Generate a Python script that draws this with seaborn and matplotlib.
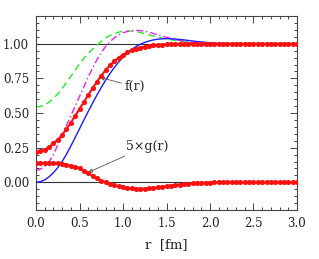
import matplotlib
matplotlib.use("Agg")
import matplotlib.pyplot as plt
from matplotlib.ticker import MultipleLocator
import seaborn as sns
import numpy as np

# radial grid (fm)
r = [0.00, 0.05, 0.10, 0.15, 0.20, 0.25, 0.30, 0.35, 0.40, 0.45,
     0.50, 0.55, 0.60, 0.65, 0.70, 0.75, 0.80, 0.85, 0.90, 0.95,
     1.00, 1.05, 1.10, 1.15, 1.20, 1.25, 1.30, 1.35, 1.40, 1.45,
     1.50, 1.55, 1.60, 1.65, 1.70, 1.75, 1.80, 1.85, 1.90, 1.95,
     2.00, 2.05, 2.10, 2.15, 2.20, 2.25, 2.30, 2.35, 2.40, 2.45,
     2.50, 2.55, 2.60, 2.65, 2.70, 2.75, 2.80, 2.85, 2.90, 2.95, 3.00]

f_r = [0.220, 0.225, 0.236, 0.256, 0.281, 0.308, 0.342, 0.385, 0.430, 0.480,
       0.530, 0.580, 0.630, 0.680, 0.725, 0.770, 0.810, 0.845, 0.875, 0.900,
       0.920, 0.938, 0.952, 0.964, 0.973, 0.980, 0.985, 0.989, 0.992, 0.994,
       0.996, 0.997, 0.998, 0.999, 1.000, 1.000, 1.000, 1.000, 1.000, 1.000,
       1.000, 1.000, 1.000, 1.000, 1.000, 1.000, 1.000, 1.000, 1.000, 1.000,
       1.000, 1.000, 1.000, 1.000, 1.000, 1.000, 1.000, 1.000, 1.000, 1.000, 1.000]

g5_r = [0.140, 0.140, 0.140, 0.139, 0.138, 0.136, 0.133, 0.128, 0.121, 0.112,
        0.101, 0.084, 0.066, 0.047, 0.030, 0.013, -0.001, -0.013, -0.022, -0.030,
        -0.036, -0.041, -0.044, -0.046, -0.046, -0.045, -0.043, -0.040, -0.036, -0.032,
        -0.028, -0.024, -0.020, -0.016, -0.013, -0.010, -0.008, -0.006, -0.004, -0.003,
        -0.002, -0.001, -0.001, 0.000, 0.000, 0.000, 0.000, 0.000, 0.000, 0.000,
        0.000, 0.000, 0.000, 0.000, 0.000, 0.000, 0.000, 0.000, 0.000, 0.000, 0.000]

blue = [0.000, 0.005, 0.018, 0.040, 0.070, 0.106, 0.150, 0.203, 0.262, 0.324,
        0.387, 0.450, 0.512, 0.572, 0.630, 0.685, 0.737, 0.785, 0.829, 0.868,
        0.903, 0.933, 0.959, 0.980, 0.997, 1.010, 1.020, 1.028, 1.033, 1.036,
        1.037, 1.036, 1.034, 1.031, 1.028, 1.024, 1.020, 1.016, 1.013, 1.010,
        1.007, 1.005, 1.003, 1.002, 1.001, 1.000, 1.000, 1.000, 1.000, 1.000,
        1.000, 1.000, 1.000, 1.000, 1.000, 1.000, 1.000, 1.000, 1.000, 1.000, 1.000]

green = [0.545, 0.548, 0.558, 0.578, 0.605, 0.638, 0.675, 0.720, 0.765, 0.810,
         0.855, 0.895, 0.930, 0.962, 0.990, 1.018, 1.041, 1.060, 1.074, 1.084,
         1.090, 1.092, 1.091, 1.087, 1.081, 1.073, 1.064, 1.056, 1.048, 1.041,
         1.035, 1.029, 1.024, 1.019, 1.015, 1.011, 1.008, 1.006, 1.004, 1.002,
         1.001, 1.000, 1.000, 1.000, 1.000, 1.000, 1.000, 1.000, 1.000, 1.000,
         1.000, 1.000, 1.000, 1.000, 1.000, 1.000, 1.000, 1.000, 1.000, 1.000, 1.000]

magenta = [0.085, 0.095, 0.115, 0.150, 0.200, 0.270, 0.340, 0.410, 0.480, 0.550,
           0.620, 0.690, 0.760, 0.825, 0.885, 0.937, 0.980, 1.015, 1.043, 1.064,
           1.079, 1.089, 1.095, 1.097, 1.095, 1.090, 1.083, 1.074, 1.065, 1.056,
           1.047, 1.039, 1.031, 1.024, 1.018, 1.013, 1.009, 1.006, 1.003, 1.001,
           1.000, 1.000, 1.000, 1.000, 1.000, 1.000, 1.000, 1.000, 1.000, 1.000,
           1.000, 1.000, 1.000, 1.000, 1.000, 1.000, 1.000, 1.000, 1.000, 1.000, 1.000]

x_ticks = [0.0, 0.5, 1.0, 1.5, 2.0, 2.5, 3.0]
y_ticks = [0.00, 0.25, 0.50, 0.75, 1.00]
x_label = "r  [fm]"
label_f = "f(r)"
label_g = "5×g(r)"

sns.set_style("ticks")
plt.rcParams["font.family"] = ["DejaVu Serif", "DejaVu Sans"]
plt.rcParams["font.size"] = 8

fig = plt.figure(figsize=(3.19, 2.59), dpi=100)
ax = fig.add_axes([0.113, 0.189, 0.818, 0.749])

ax.axhline(1.0, color="#333333", lw=0.8, zorder=1)
ax.axhline(0.0, color="#333333", lw=0.8, zorder=1)

sns.lineplot(x=r, y=green, ax=ax, color="#22ee22", lw=1.0,
             linestyle=(0, (5, 3)), zorder=2)
sns.lineplot(x=r, y=magenta, ax=ax, color="#ee22ee", lw=1.0,
             linestyle=(0, (5, 2, 1, 2)), zorder=2)
sns.lineplot(x=r, y=blue, ax=ax, color="#1a1aff", lw=1.0, zorder=3)
sns.lineplot(x=r, y=f_r, ax=ax, color="#ff1010", lw=1.5, marker="o",
             markersize=3.7, markeredgewidth=0, zorder=4)
sns.lineplot(x=r, y=g5_r, ax=ax, color="#ff1010", lw=1.5, marker="o",
             markersize=3.7, markeredgewidth=0, zorder=4)

ax.annotate(label_f, xy=(0.735, 0.757), xytext=(1.02, 0.69), fontsize=9,
            va="center", ha="left",
            arrowprops=dict(arrowstyle="-|>", color="#555555", lw=0.6,
                            fill=False, mutation_scale=6, shrinkA=0, shrinkB=0))
ax.annotate(label_g, xy=(0.6, 0.072), xytext=(1.03, 0.26), fontsize=9,
            va="center", ha="left",
            arrowprops=dict(arrowstyle="-|>", color="#555555", lw=0.6,
                            fill=False, mutation_scale=6, shrinkA=0, shrinkB=0))

ax.set_xlim(0, 3.0)
ax.set_ylim(-0.2, 1.2)
ax.set_xticks(x_ticks)
ax.set_xticklabels([f"{v:.1f}" for v in x_ticks])
ax.set_yticks(y_ticks)
ax.set_yticklabels([f"{v:.2f}" for v in y_ticks])
ax.xaxis.set_minor_locator(MultipleLocator(0.1))
ax.yaxis.set_minor_locator(MultipleLocator(0.05))
ax.tick_params(which="both", direction="in", top=True, right=True,
               color="#444444", width=0.7, labelsize=8.5, labelcolor="#222222")
ax.tick_params(which="major", length=5, pad=5)
ax.tick_params(which="minor", length=2.5)
for s in ax.spines.values():
    s.set_linewidth(0.8)
    s.set_color("#444444")
ax.set_xlabel(x_label, fontsize=9.5, color="#222222", labelpad=6)
ax.set_ylabel("")

fig.savefig("out.png", dpi=100)
